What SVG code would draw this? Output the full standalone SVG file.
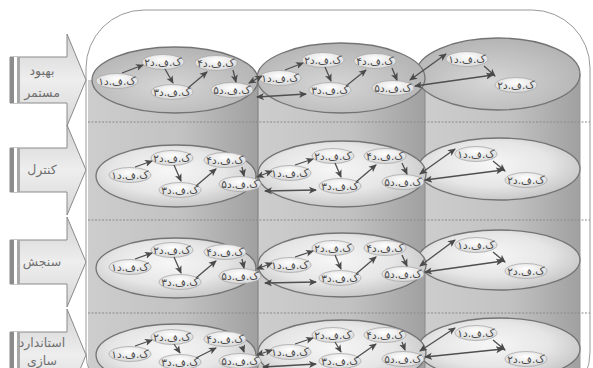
<svg xmlns="http://www.w3.org/2000/svg" width="593" height="368" viewBox="0 0 593 368">
<defs>
<linearGradient id="body" x1="0" y1="0" x2="1" y2="0">
<stop offset="0" stop-color="#cdcdcd"/><stop offset="0.55" stop-color="#c2c2c2"/><stop offset="1" stop-color="#a0a0a0"/>
</linearGradient>
<radialGradient id="cap" cx="0.45" cy="0.6" r="0.6">
<stop offset="0" stop-color="#d6d6d6"/><stop offset="1" stop-color="#b4b4b4"/>
</radialGradient>
<radialGradient id="layer" cx="0.45" cy="0.42" r="0.6">
<stop offset="0" stop-color="#f6f6f6"/><stop offset="0.6" stop-color="#e6e6e6"/><stop offset="1" stop-color="#c6c6c6"/>
</radialGradient>
<radialGradient id="nodeg" cx="0.5" cy="0.35" r="0.65">
<stop offset="0" stop-color="#ffffff"/><stop offset="1" stop-color="#d8d8d8"/>
</radialGradient>
<linearGradient id="arrowg" x1="0" y1="0" x2="0" y2="1">
<stop offset="0" stop-color="#d2d2d2"/><stop offset="0.5" stop-color="#eeeeee"/><stop offset="1" stop-color="#d6d6d6"/>
</linearGradient>
<marker id="ah" viewBox="0 0 8 8" refX="7" refY="4" markerWidth="8" markerHeight="8" markerUnits="userSpaceOnUse" orient="auto-start-reverse">
<path d="M0,0.5 L8,4 L0,7.5 L2,4 Z" fill="#4a4a4a"/>
</marker>
</defs>
<style>
.n ellipse{fill:url(#nodeg);stroke:#a8a8a8;stroke-width:0.8}
.n text{font-family:"DejaVu Sans","Noto Sans",sans-serif;font-size:10.5px;fill:#4a4a4a;text-anchor:middle;direction:rtl;unicode-bidi:embed}
.lay{fill:url(#layer);stroke:#747474;stroke-width:1.3}
.capc{fill:url(#cap);stroke:#747474;stroke-width:1.3}
.c line{stroke:#4f4f4f;stroke-width:1.3;marker-end:url(#ah)}
.c line.d{marker-start:url(#ah)}
.st path{fill:url(#arrowg);stroke:#8a8a8a;stroke-width:1}
.st text{font-family:"DejaVu Sans","Noto Sans",sans-serif;font-size:12.5px;fill:#707070;text-anchor:middle;direction:rtl;unicode-bidi:embed}
.dash{stroke:#8a8a8a;stroke-width:1;stroke-dasharray:2 1.5}
</style>
<rect width="593" height="368" fill="#ffffff"/>

<!-- cylinder bodies -->
<rect x="88" y="80" width="170" height="300" fill="url(#body)"/>
<rect x="258" y="78" width="167" height="300" fill="url(#body)"/>
<rect x="425" y="74" width="155" height="300" fill="url(#body)"/>
<line x1="258" y1="80" x2="258" y2="368" stroke="#7c7c7c" stroke-width="1"/>
<line x1="425" y1="74" x2="425" y2="368" stroke="#8a8a8a" stroke-width="1"/>
<line x1="580" y1="74" x2="580" y2="368" stroke="#9a9a9a" stroke-width="1"/>

<!-- row separators -->
<line class="dash" x1="88" y1="122" x2="590" y2="122"/>
<line class="dash" x1="88" y1="220" x2="590" y2="220"/>
<line class="dash" x1="88" y1="313" x2="590" y2="313"/>

<!-- outer frame -->
<rect x="86" y="10" width="504" height="400" rx="58" fill="none" stroke="#999" stroke-width="1"/>

<!-- cylinder caps (row 1) -->
<ellipse class="capc" cx="498" cy="74" rx="82" ry="36"/>
<ellipse class="capc" cx="341" cy="78" rx="84" ry="35"/>
<ellipse class="capc" cx="175" cy="80" rx="83" ry="33"/>

<!-- layers rows 2-4 -->
<ellipse class="lay" cx="499" cy="169" rx="81" ry="31"/>
<ellipse class="lay" cx="342" cy="174" rx="84" ry="33"/>
<ellipse class="lay" cx="176" cy="176" rx="80" ry="31"/>
<ellipse class="lay" cx="499" cy="260" rx="81" ry="30"/>
<ellipse class="lay" cx="342" cy="265" rx="84" ry="32"/>
<ellipse class="lay" cx="176" cy="268" rx="80" ry="30"/>
<ellipse class="lay" cx="499" cy="349" rx="81" ry="31"/>
<ellipse class="lay" cx="342" cy="353" rx="84" ry="33"/>
<ellipse class="lay" cx="176" cy="355" rx="80" ry="31"/>

<!-- stage arrows -->
<g id="stage1" class="st">
<path d="M10,57 L67,57 L67,34 L86,80 L67,126 L67,103 L10,103 Z"/>
<rect x="10" y="57" width="4" height="46" fill="#8c8c8c"/><rect x="14" y="57" width="3" height="46" fill="#fff"/><rect x="17" y="57" width="3" height="46" fill="#a8a8a8"/>
<text x="42" y="75">بهبود</text><text x="42" y="97">مستمر</text>
</g>
<g id="stage2" class="st">
<path d="M10,148 L67,148 L67,125 L86,170 L67,215 L67,192 L10,192 Z"/>
<rect x="10" y="148" width="4" height="44" fill="#8c8c8c"/><rect x="14" y="148" width="3" height="44" fill="#fff"/><rect x="17" y="148" width="3" height="44" fill="#a8a8a8"/>
<text x="42" y="174">کنترل</text>
</g>
<g id="stage3" class="st">
<path d="M10,240 L67,240 L67,217 L86,262 L67,307 L67,284 L10,284 Z"/>
<rect x="10" y="240" width="4" height="44" fill="#8c8c8c"/><rect x="14" y="240" width="3" height="44" fill="#fff"/><rect x="17" y="240" width="3" height="44" fill="#a8a8a8"/>
<text x="42" y="266">سنجش</text>
</g>
<g id="stage4" class="st">
<path d="M10,332 L67,332 L67,309 L86,355 L67,401 L67,378 L10,378 Z"/>
<rect x="10" y="332" width="4" height="46" fill="#8c8c8c"/><rect x="14" y="332" width="3" height="46" fill="#fff"/><rect x="17" y="332" width="3" height="46" fill="#a8a8a8"/>
<text x="42" y="347">استاندارد</text><text x="42" y="365">سازی</text>
</g>

<!-- nodes row 1 -->
<g id="r1c1n1" class="n"><ellipse cx="117" cy="81" rx="21" ry="7.5"/><text x="117" y="84.5">ک.ف.د۱</text></g>
<g id="r1c1n2" class="n"><ellipse cx="163" cy="62" rx="21" ry="7.5"/><text x="163" y="65.5">ک.ف.د۲</text></g>
<g id="r1c1n3" class="n"><ellipse cx="172" cy="92" rx="21" ry="7.5"/><text x="172" y="95.5">ک.ف.د۳</text></g>
<g id="r1c1n4" class="n"><ellipse cx="216" cy="63" rx="21" ry="7.5"/><text x="216" y="66.5">ک.ف.د۴</text></g>
<g id="r1c1n5" class="n"><ellipse cx="232" cy="90" rx="21" ry="7.5"/><text x="232" y="93.5">ک.ف.د۵</text></g>
<g id="r1c2n1" class="n"><ellipse cx="280" cy="78" rx="21" ry="7.5"/><text x="280" y="81.5">ک.ف.د۱</text></g>
<g id="r1c2n2" class="n"><ellipse cx="323" cy="60" rx="21" ry="7.5"/><text x="323" y="63.5">ک.ف.د۲</text></g>
<g id="r1c2n3" class="n"><ellipse cx="330" cy="90" rx="21" ry="7.5"/><text x="330" y="93.5">ک.ف.د۳</text></g>
<g id="r1c2n4" class="n"><ellipse cx="375" cy="61" rx="21" ry="7.5"/><text x="375" y="64.5">ک.ف.د۴</text></g>
<g id="r1c2n5" class="n"><ellipse cx="393" cy="88" rx="21" ry="7.5"/><text x="393" y="91.5">ک.ف.د۵</text></g>
<g id="r1c3n1" class="n"><ellipse cx="467" cy="59" rx="21" ry="7.5"/><text x="467" y="62.5">ک.ف.د۱</text></g>
<g id="r1c3n2" class="n"><ellipse cx="516" cy="85" rx="21" ry="7.5"/><text x="516" y="88.5">ک.ف.د۲</text></g>

<!-- nodes row 2 -->
<g id="r2c1n1" class="n"><ellipse cx="130" cy="175" rx="21" ry="7.5"/><text x="130" y="178.5">ک.ف.د۱</text></g>
<g id="r2c1n2" class="n"><ellipse cx="172" cy="158" rx="21" ry="7.5"/><text x="172" y="161.5">ک.ف.د۲</text></g>
<g id="r2c1n3" class="n"><ellipse cx="180" cy="190" rx="21" ry="7.5"/><text x="180" y="193.5">ک.ف.د۳</text></g>
<g id="r2c1n4" class="n"><ellipse cx="225" cy="160" rx="21" ry="7.5"/><text x="225" y="163.5">ک.ف.د۴</text></g>
<g id="r2c1n5" class="n"><ellipse cx="240" cy="184" rx="21" ry="7.5"/><text x="240" y="187.5">ک.ف.د۵</text></g>
<g id="r2c2n1" class="n"><ellipse cx="290" cy="173" rx="21" ry="7.5"/><text x="290" y="176.5">ک.ف.د۱</text></g>
<g id="r2c2n2" class="n"><ellipse cx="333" cy="156" rx="21" ry="7.5"/><text x="333" y="159.5">ک.ف.د۲</text></g>
<g id="r2c2n3" class="n"><ellipse cx="340" cy="186" rx="21" ry="7.5"/><text x="340" y="189.5">ک.ف.د۳</text></g>
<g id="r2c2n4" class="n"><ellipse cx="385" cy="156" rx="21" ry="7.5"/><text x="385" y="159.5">ک.ف.د۴</text></g>
<g id="r2c2n5" class="n"><ellipse cx="403" cy="182" rx="21" ry="7.5"/><text x="403" y="185.5">ک.ف.د۵</text></g>
<g id="r2c3n1" class="n"><ellipse cx="476" cy="154" rx="21" ry="7.5"/><text x="476" y="157.5">ک.ف.د۱</text></g>
<g id="r2c3n2" class="n"><ellipse cx="526" cy="180" rx="21" ry="7.5"/><text x="526" y="183.5">ک.ف.د۲</text></g>

<!-- nodes row 3 -->
<g id="r3c1n1" class="n"><ellipse cx="130" cy="267" rx="21" ry="7.5"/><text x="130" y="270.5">ک.ف.د۱</text></g>
<g id="r3c1n2" class="n"><ellipse cx="172" cy="250" rx="21" ry="7.5"/><text x="172" y="253.5">ک.ف.د۲</text></g>
<g id="r3c1n3" class="n"><ellipse cx="180" cy="282" rx="21" ry="7.5"/><text x="180" y="285.5">ک.ف.د۳</text></g>
<g id="r3c1n4" class="n"><ellipse cx="225" cy="252" rx="21" ry="7.5"/><text x="225" y="255.5">ک.ف.د۴</text></g>
<g id="r3c1n5" class="n"><ellipse cx="240" cy="276" rx="21" ry="7.5"/><text x="240" y="279.5">ک.ف.د۵</text></g>
<g id="r3c2n1" class="n"><ellipse cx="290" cy="265" rx="21" ry="7.5"/><text x="290" y="268.5">ک.ف.د۱</text></g>
<g id="r3c2n2" class="n"><ellipse cx="333" cy="248" rx="21" ry="7.5"/><text x="333" y="251.5">ک.ف.د۲</text></g>
<g id="r3c2n3" class="n"><ellipse cx="340" cy="278" rx="21" ry="7.5"/><text x="340" y="281.5">ک.ف.د۳</text></g>
<g id="r3c2n4" class="n"><ellipse cx="385" cy="248" rx="21" ry="7.5"/><text x="385" y="251.5">ک.ف.د۴</text></g>
<g id="r3c2n5" class="n"><ellipse cx="403" cy="274" rx="21" ry="7.5"/><text x="403" y="277.5">ک.ف.د۵</text></g>
<g id="r3c3n1" class="n"><ellipse cx="476" cy="245" rx="21" ry="7.5"/><text x="476" y="248.5">ک.ف.د۱</text></g>
<g id="r3c3n2" class="n"><ellipse cx="526" cy="271" rx="21" ry="7.5"/><text x="526" y="274.5">ک.ف.د۲</text></g>

<!-- nodes row 4 -->
<g id="r4c1n1" class="n"><ellipse cx="130" cy="354" rx="21" ry="7.5"/><text x="130" y="357.5">ک.ف.د۱</text></g>
<g id="r4c1n2" class="n"><ellipse cx="172" cy="337" rx="21" ry="7.5"/><text x="172" y="340.5">ک.ف.د۲</text></g>
<g id="r4c1n3" class="n"><ellipse cx="180" cy="362" rx="21" ry="7.5"/><text x="180" y="365.5">ک.ف.د۳</text></g>
<g id="r4c1n4" class="n"><ellipse cx="225" cy="339" rx="21" ry="7.5"/><text x="225" y="342.5">ک.ف.د۴</text></g>
<g id="r4c1n5" class="n"><ellipse cx="240" cy="361" rx="21" ry="7.5"/><text x="240" y="364.5">ک.ف.د۵</text></g>
<g id="r4c2n1" class="n"><ellipse cx="290" cy="352" rx="21" ry="7.5"/><text x="290" y="355.5">ک.ف.د۱</text></g>
<g id="r4c2n2" class="n"><ellipse cx="333" cy="335" rx="21" ry="7.5"/><text x="333" y="338.5">ک.ف.د۲</text></g>
<g id="r4c2n3" class="n"><ellipse cx="340" cy="361" rx="21" ry="7.5"/><text x="340" y="364.5">ک.ف.د۳</text></g>
<g id="r4c2n4" class="n"><ellipse cx="385" cy="335" rx="21" ry="7.5"/><text x="385" y="338.5">ک.ف.د۴</text></g>
<g id="r4c2n5" class="n"><ellipse cx="403" cy="359" rx="21" ry="7.5"/><text x="403" y="362.5">ک.ف.د۵</text></g>
<g id="r4c3n1" class="n"><ellipse cx="476" cy="333" rx="21" ry="7.5"/><text x="476" y="336.5">ک.ف.د۱</text></g>
<g id="r4c3n2" class="n"><ellipse cx="526" cy="359" rx="21" ry="7.5"/><text x="526" y="362.5">ک.ف.د۲</text></g>

<!-- connectors -->
<g id="connectors" class="c">
<line x1="122" y1="73" x2="143" y2="65"/>
<line x1="165" y1="69" x2="173" y2="83"/>
<line x1="188" y1="88" x2="207" y2="72"/>
<line x1="233" y1="70" x2="236" y2="82"/>
<line class="d" x1="249" y1="83" x2="262" y2="76"/>
<line class="d" x1="257" y1="97" x2="306" y2="94"/>
<line x1="285" y1="70" x2="303" y2="63"/>
<line x1="325" y1="67" x2="331" y2="81"/>
<line x1="346" y1="86" x2="366" y2="70"/>
<line x1="392" y1="68" x2="397" y2="80"/>
<line class="d" x1="410" y1="80" x2="446" y2="54"/>
<line x1="484" y1="66" x2="495" y2="76"/>
<line class="d" x1="415" y1="86" x2="493" y2="75"/>

<line x1="135" y1="167" x2="152" y2="161"/>
<line x1="174" y1="165" x2="181" y2="181"/>
<line x1="196" y1="186" x2="216" y2="169"/>
<line x1="242" y1="167" x2="244" y2="176"/>
<line class="d" x1="257" y1="177" x2="272" y2="171"/>
<line class="d" x1="265" y1="191" x2="316" y2="190"/>
<line x1="295" y1="165" x2="313" y2="159"/>
<line x1="335" y1="163" x2="341" y2="177"/>
<line x1="356" y1="182" x2="376" y2="165"/>
<line x1="402" y1="163" x2="407" y2="174"/>
<line class="d" x1="420" y1="174" x2="455" y2="149"/>
<line x1="493" y1="161" x2="505" y2="171"/>
<line class="d" x1="425" y1="180" x2="503" y2="170"/>

<line x1="135" y1="259" x2="152" y2="253"/>
<line x1="174" y1="257" x2="181" y2="273"/>
<line x1="196" y1="278" x2="216" y2="261"/>
<line x1="242" y1="259" x2="244" y2="268"/>
<line class="d" x1="257" y1="269" x2="272" y2="263"/>
<line class="d" x1="265" y1="283" x2="316" y2="282"/>
<line x1="295" y1="257" x2="313" y2="251"/>
<line x1="335" y1="255" x2="341" y2="269"/>
<line x1="356" y1="274" x2="376" y2="257"/>
<line x1="402" y1="255" x2="407" y2="266"/>
<line class="d" x1="420" y1="266" x2="455" y2="240"/>
<line x1="493" y1="252" x2="505" y2="262"/>
<line class="d" x1="425" y1="272" x2="503" y2="261"/>

<line x1="135" y1="346" x2="152" y2="340"/>
<line x1="174" y1="344" x2="180" y2="353"/>
<line x1="196" y1="358" x2="216" y2="348"/>
<line x1="242" y1="346" x2="244" y2="352"/>
<line class="d" x1="257" y1="355" x2="272" y2="350"/>
<line class="d" x1="263" y1="367" x2="316" y2="364"/>
<line x1="295" y1="344" x2="313" y2="338"/>
<line x1="335" y1="342" x2="341" y2="352"/>
<line x1="356" y1="358" x2="376" y2="344"/>
<line x1="402" y1="342" x2="405" y2="350"/>
<line class="d" x1="420" y1="351" x2="455" y2="328"/>
<line x1="493" y1="340" x2="505" y2="350"/>
<line class="d" x1="425" y1="357" x2="503" y2="349"/>
</g>
</svg>
